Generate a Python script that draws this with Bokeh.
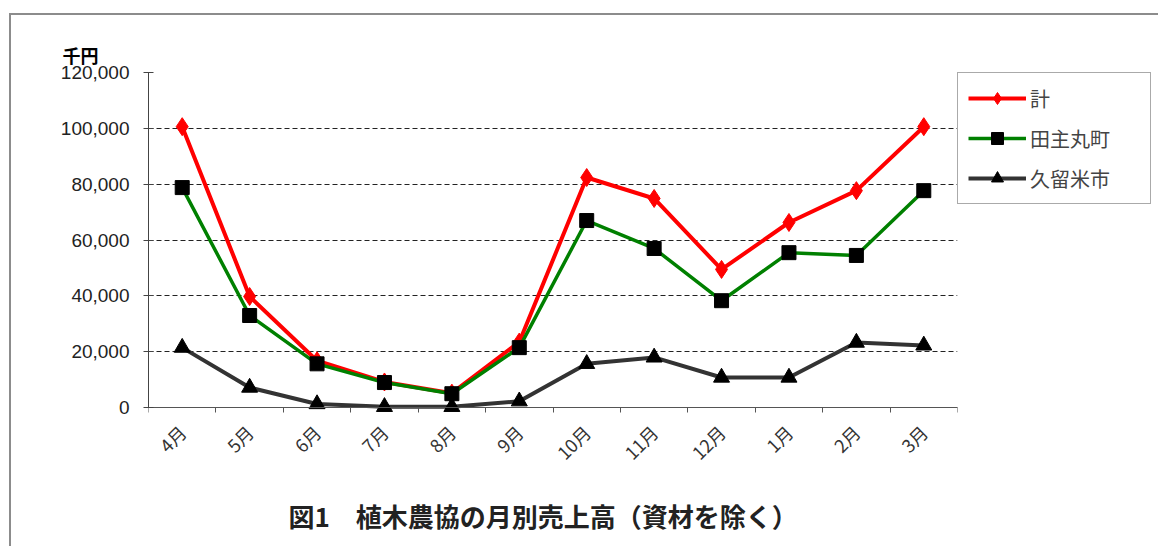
from bokeh.plotting import figure
from bokeh.models import (FactorRange, Range1d, LinearAxis, FixedTicker, CustomJSTickFormatter,
                          NumeralTickFormatter, Legend, LegendItem, Title)
from bokeh.embed import file_html
from bokeh.resources import INLINE

months = ["4月", "5月", "6月", "7月", "8月", "9月", "10月", "11月", "12月", "1月", "2月", "3月"]
total = [100600, 39800, 16800, 9200, 5200, 23500, 82400, 74900, 49500, 66300, 77700, 100600]
tanushimaru = [78800, 33000, 15700, 9000, 5000, 21500, 67000, 57000, 38300, 55500, 54500, 77700]
kurume = [21500, 7200, 1300, 300, 300, 2300, 15700, 18000, 10800, 10800, 23300, 22300]
y_ticks = [0, 20000, 40000, 60000, 80000, 100000, 120000]
series_names = ["計", "田主丸町", "久留米市"]
title_text = "図1　植木農協の月別売上高（資材を除く）"
unit_text = "千円"

JP = "Noto Sans CJK JP"

p = figure(x_range=FactorRange(factors=months, range_padding=0),
           y_range=Range1d(-2800, 120000),
           frame_width=809, frame_height=343,
           min_border_left=137, min_border_right=0,
           min_border_top=57, min_border_bottom=131,
           output_backend="svg", toolbar_location=None,
           styles={"margin-left": "9px", "margin-top": "13px",
                   "border-top": "2px solid #8c8c8c", "border-left": "2px solid #8c8c8c"})
p.outline_line_color = None
p.background_fill_color = "white"
p.border_fill_color = "white"

# grid
p.xgrid.grid_line_color = None
p.ygrid.ticker = FixedTicker(ticks=y_ticks)
p.ygrid.grid_line_color = "#222222"
p.ygrid.grid_line_dash = "5 3"
p.ygrid.grid_line_width = 1

# y axis
ya = p.yaxis[0]
ya.ticker = FixedTicker(ticks=y_ticks)
ya.formatter = NumeralTickFormatter(format="0,0")
ya.bounds = (0, 120000)
ya.major_tick_in = 5
ya.major_tick_out = 5
ya.minor_tick_line_color = None
ya.axis_line_color = "#444444"
ya.major_tick_line_color = "#444444"
ya.major_label_text_font = "Liberation Sans"
ya.major_label_text_font_size = "19px"
ya.major_label_text_color = "#222222"
ya.major_label_standoff = 14

# categorical x axis (labels only)
xa = p.xaxis[0]
xa.axis_line_color = None
xa.major_tick_line_color = None
xa.major_tick_in = 0
xa.major_tick_out = 0
xa.major_label_standoff = 13
xa.major_label_orientation = 0.785398
xa.major_label_text_font = JP
xa.major_label_text_font_size = "18px"
xa.major_label_text_color = "#333333"

# x axis with ticks at category boundaries (synthetic positions 0..12)
ea = LinearAxis(ticker=FixedTicker(ticks=list(range(len(months) + 1))), fixed_location=0,
                formatter=CustomJSTickFormatter(code="return ''"))
ea.major_label_text_font_size = "1px"
ea.major_tick_in = 0
ea.major_tick_out = 5
ea.minor_tick_line_color = None
ea.axis_line_color = "#555555"
ea.major_tick_line_color = "#555555"
ea.major_label_standoff = 0
p.add_layout(ea, "below")

# series
r1 = p.line(months, total, color="#FF0000", line_width=4)
s1 = p.scatter(months, total, marker="diamond", size=18, color="#FF0000")
r2 = p.line(months, tanushimaru, color="#008000", line_width=3.5)
s2 = p.scatter(months, tanushimaru, marker="square", size=14, color="black")
r3 = p.line(months, kurume, color="#333333", line_width=4)
s3 = p.scatter(months, kurume, marker="triangle", size=16, color="black")

legend = Legend(items=[LegendItem(label=series_names[0], renderers=[r1, s1]),
                       LegendItem(label=series_names[1], renderers=[r2, s2]),
                       LegendItem(label=series_names[2], renderers=[r3, s3])],
                location="top_left", margin=0, padding=10, spacing=10,
                glyph_width=58, glyph_height=30, label_height=30, label_width=110,
                label_standoff=4, label_text_font=JP, label_text_font_size="20px",
                border_line_color="#555555", border_line_width=1.5,
                background_fill_color="white", background_fill_alpha=1.0)
p.add_layout(legend, "right")

p.add_layout(Title(text=unit_text, align="left", offset=-86, text_font=JP,
                   text_font_size="18px", text_font_style="bold", text_color="black"), "above")
p.add_layout(Title(text=title_text, align="left", offset=140, standoff=36, text_font=JP,
                   text_font_size="26px", text_font_style="bold", text_color="#222222"), "below")

open("out.html", "w").write(file_html(p, INLINE))
